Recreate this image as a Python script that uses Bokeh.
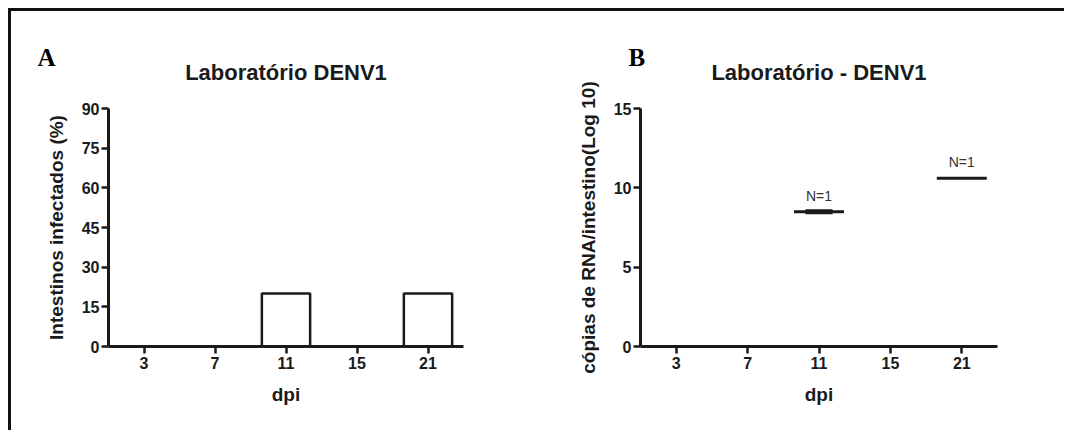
from bokeh.plotting import figure
from bokeh.layouts import row
from bokeh.models import FactorRange, Range1d, FixedTicker, ColumnDataSource, Title
from bokeh.core.properties import value
from bokeh.embed import file_html
from bokeh.resources import INLINE

# ---- data ----
dpi_days = ["3", "7", "11", "15", "21"]
pct_infected = [0, 0, 20, 0, 20]          # panel A, % infected midguts
rna_days = ["11", "21"]                    # panel B, days with positives
rna_log10 = [8.5, 10.6]                    # RNA copies / midgut (log10)
rna_n = [1, 1]

title_a = "Laboratório DENV1"
title_b = "Laboratório - DENV1"
ylabel_a = "Intestinos infectados (%)"
ylabel_b = "cópias de RNA/intestino(Log 10)"
xlabel = "dpi"
yticks_a = [0, 15, 30, 45, 60, 75, 90]
yticks_b = [0, 5, 10, 15]

SANS = "Liberation Sans"
SERIF = "Liberation Serif"
INK = "#1a1a1a"


def style(p, yticks, main_title, letter, letter_dx):
    p.xgrid.visible = False
    p.ygrid.visible = False
    p.outline_line_color = None
    p.background_fill_color = "white"
    p.border_fill_color = "white"
    p.yaxis.ticker = FixedTicker(ticks=yticks)
    for ax in (p.xaxis[0], p.yaxis[0]):
        ax.axis_line_width = 3
        ax.axis_line_color = INK
        ax.major_tick_line_width = 2.5
        ax.major_tick_line_color = INK
        ax.major_tick_out = 7
        ax.major_tick_in = 0
        ax.minor_tick_line_color = None
        ax.major_label_text_font = SANS
        ax.major_label_text_font_style = "bold"
        ax.major_label_text_font_size = "16px"
        ax.major_label_text_color = INK
        ax.axis_label_text_font = SANS
        ax.axis_label_text_font_style = "bold"
        ax.axis_label_text_color = INK
        ax.axis_label_standoff = 12
    p.xaxis.major_label_standoff = 3
    p.yaxis.major_label_standoff = 2
    p.xaxis.axis_label = xlabel
    p.xaxis.axis_label_text_font_size = "19px"
    p.yaxis.axis_label_text_font_size = "19px"
    # panel letter: outermost title, pulled down beside the chart title
    p.title = Title(text=letter, align="left", offset=letter_dx, standoff=-74,
                    text_font=SERIF, text_font_style="bold",
                    text_font_size="25px", text_color="black")
    # chart title: nearest the frame
    p.add_layout(Title(text=main_title, align="center", standoff=48,
                       text_font=SANS, text_font_style="bold",
                       text_font_size="22px", text_color=INK), "above")


# ---- panel A ----
pA = figure(width=529, height=419, x_range=FactorRange(*dpi_days),
            y_range=Range1d(0, 90), output_backend="svg", toolbar_location=None,
            min_border_left=97, min_border_right=77, min_border_top=97,
            min_border_bottom=84)
pA.vbar(x=dpi_days, top=pct_infected, width=0.68, bottom=0,
        fill_color="white", line_color=INK, line_width=2.5)
style(pA, yticks_a, title_a, "A", -71)
pA.yaxis.axis_label = ylabel_a

# ---- panel B ----
pB = figure(width=524, height=419, x_range=FactorRange(*dpi_days),
            y_range=Range1d(0, 15), output_backend="svg", toolbar_location=None,
            min_border_left=100, min_border_right=67, min_border_top=97,
            min_border_bottom=84)
srcB = ColumnDataSource(dict(x=rna_days, y=rna_log10,
                             lab=["N=%d" % n for n in rna_n]))
pB.rect(x="x", y="y", width=0.7, height=3, height_units="screen",
        fill_color=INK, line_color=None, source=srcB)
pB.rect(x="x", y="y", width=0.38, height=5, height_units="screen",
        fill_color=INK, line_color=None, source=ColumnDataSource(
            dict(x=rna_days[:1], y=rna_log10[:1])))
pB.text(x="x", y="y", text="lab", source=srcB, y_offset=-16,
        text_align="center", text_baseline="middle",
        text_font=value(SANS), text_font_size="14px", text_color="#333333")
style(pB, yticks_b, title_b, "B", -12)
pB.yaxis.axis_label = ylabel_b

layout = row(pA, pB, styles={"border-top": "3px solid #111111",
                             "border-left": "3px solid #111111",
                             "margin-left": "8px", "margin-top": "8px"})

open("out.html", "w").write(file_html(layout, INLINE))
